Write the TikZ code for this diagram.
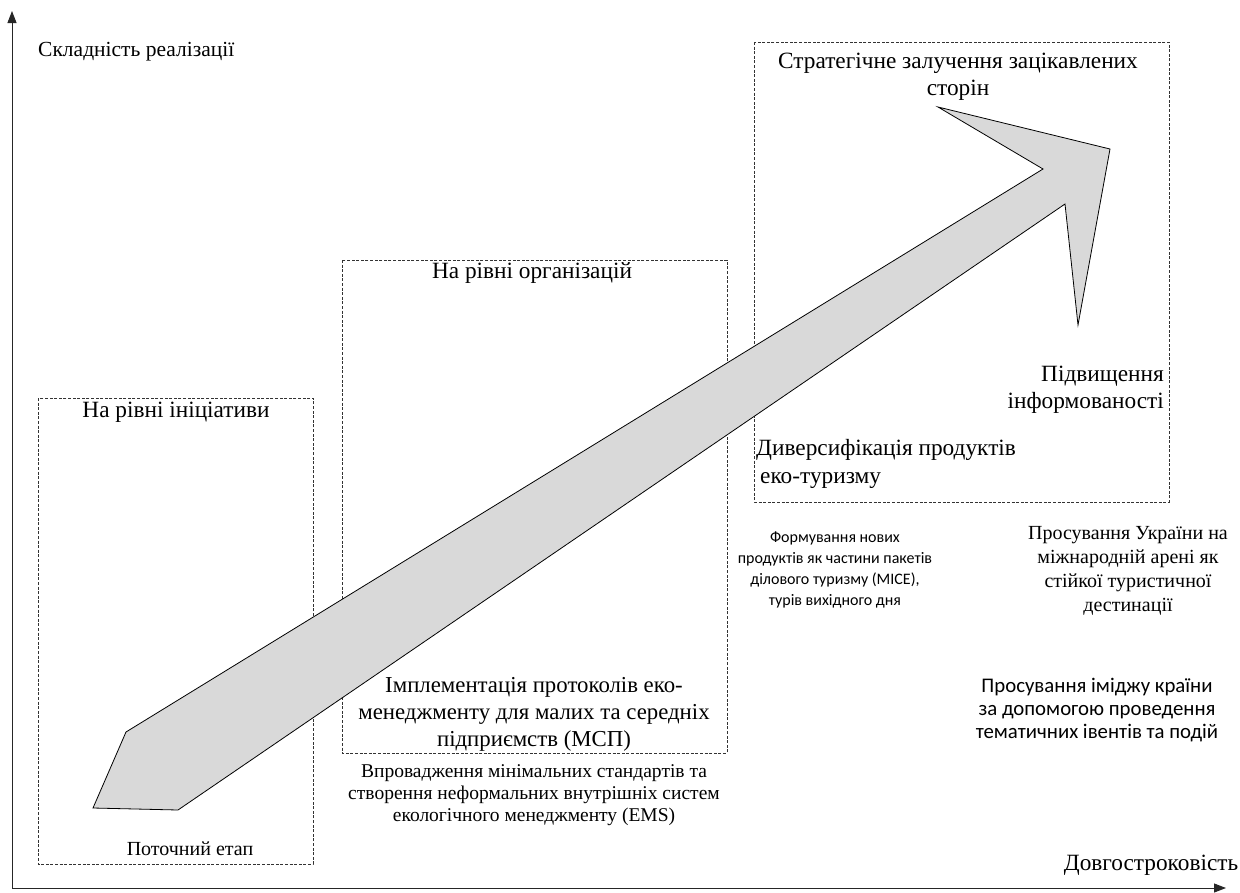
\documentclass[tikz,border=0pt]{standalone}
\usepackage{fontspec}
\setmainfont{Liberation Serif}
\newfontfamily\calfont{Carlito}
\usetikzlibrary{arrows.meta}
\definecolor{arrowfill}{RGB}{217,217,217}
\tikzset{
  framebox/.style={draw=black!80, dashed, dash pattern=on 3pt off 1.6pt, line width=0.7pt},
  axisline/.style={draw=black!85, line width=1pt, -{Triangle[length=12pt,width=9pt]}},
  bigtxt/.style={inner sep=0pt, align=center, font=\fontsize{23.3}{27.5}\selectfont},
  axtxt/.style={inner sep=0pt, font=\fontsize{21.5}{26}\selectfont},
  midtxt/.style={inner sep=0pt, align=center, font=\fontsize{19.5}{22}\selectfont},
  sertxt/.style={inner sep=0pt, align=center, font=\fontsize{20}{24}\selectfont},
  smalltxt/.style={inner sep=0pt, align=center, font=\calfont\fontsize{16}{21}\selectfont},
  sanstxt/.style={inner sep=0pt, align=center, font=\calfont\fontsize{20.8}{23}\selectfont},
  bigarrow/.style={draw=black, line width=0.8pt, fill=arrowfill, line join=miter}
}
\begin{document}
\begin{tikzpicture}[x=1pt,y=-1pt]
\useasboundingbox (0,0) rectangle (1240,892);
% axes
\coordinate (origin) at (12,888);
\coordinate (ytop) at (12,11);
\coordinate (xend) at (1226,888);
\draw[axisline] (origin) -- (ytop);
\draw[axisline] (origin) -- (xend);
\node[axtxt, anchor=west] (ylab) at (38,52) {Складність реалізації};
\node[axtxt, font=\fontsize{23.3}{27}\selectfont] (xlab) at (1151,865) {Довгостроковість};
% dashed frames
\draw[framebox] (38,398) rectangle (313,864);
\draw[framebox] (342,260) rectangle (727,753);
\draw[framebox] (754,42) rectangle (1169,502);
% big arrow
\coordinate (a1) at (93,808);
\coordinate (a2) at (126,732);
\coordinate (a3) at (1043,169);
\coordinate (a4) at (938,107);
\coordinate (a5) at (1110,149);
\coordinate (a6) at (1078,325);
\coordinate (a7) at (1065,204);
\coordinate (a8) at (178,810);
\draw[bigarrow] (a1) -- (a2) -- (a3) -- (a4) -- (a5) -- (a6) -- (a7) -- (a8) -- cycle;
% texts in frames
\node[bigtxt] (t1) at (176,412) {На рівні ініціативи};
\node[bigtxt, font=\fontsize{20}{24}\selectfont] (tcur) at (190,849) {Поточний етап};
\node[bigtxt] (t2) at (532,273) {На рівні організацій};
\node[bigtxt, font=\fontsize{22.8}{27}\selectfont] (timpl) at (534,714) {Імплементація протоколів еко-\\менеджменту для малих та середніх\\підприємств (МСП)};
\node[midtxt] (tvpr) at (534,795) {Впровадження мінімальних стандартів та\\створення неформальних внутрішніх систем\\екологічного менеджменту (EMS)};
\node[bigtxt] (t3) at (958,77) {Стратегічне залучення зацікавлених\\сторін};
\node[bigtxt, align=right, anchor=east] (tpidv) at (1164,390) {Підвищення\\інформованості};
\node[bigtxt, align=left, anchor=west] (tdiv) at (756,464) {Диверсифікація продуктів\\\hspace*{4pt}еко-туризму};
% texts outside frames
\node[smalltxt] (tform) at (835,570) {Формування нових\\продуктів як частини пакетів\\ділового туризму (MICE),\\турів вихідного дня};
\node[sertxt] (tprosu) at (1128,571) {Просування України на\\міжнародній арені як\\стійкої туристичної\\дестинації};
\node[sanstxt] (timg) at (1097,710) {Просування іміджу країни\\за допомогою проведення\\тематичних івентів та подій};
\end{tikzpicture}
\end{document}
